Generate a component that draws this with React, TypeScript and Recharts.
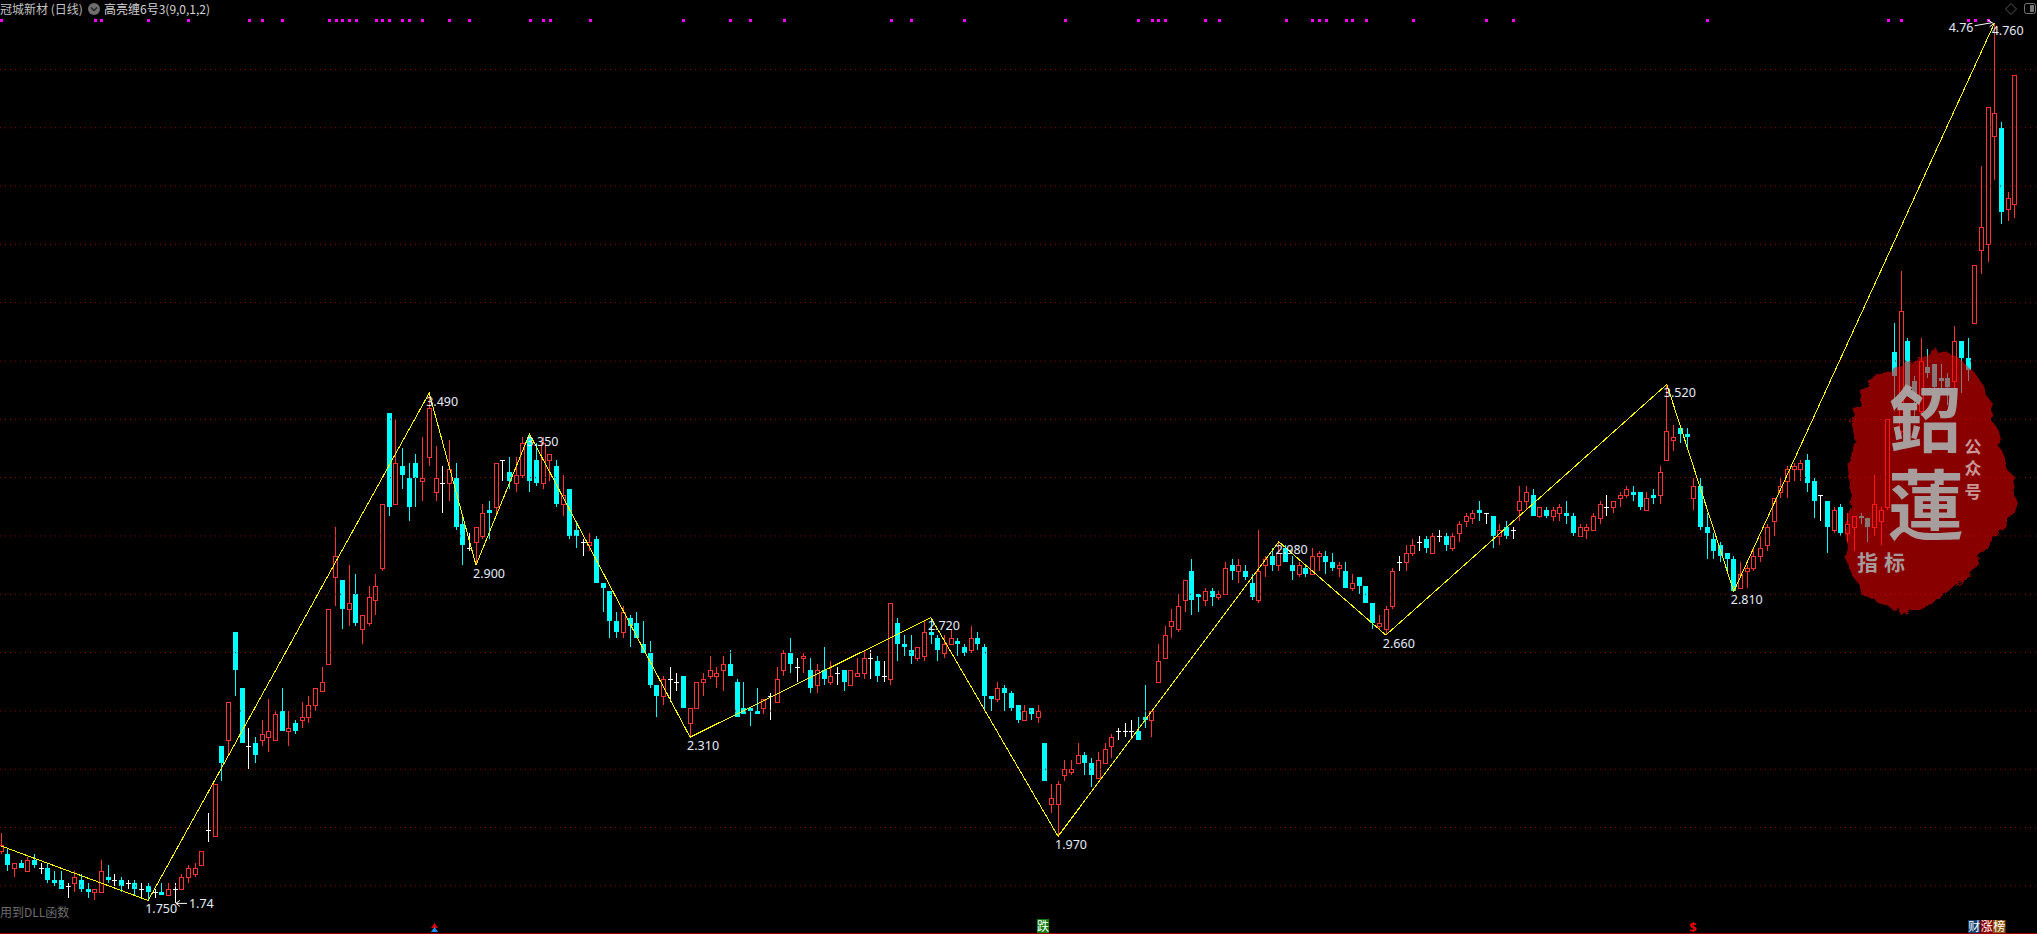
import React from 'react';
import { ComposedChart, Bar, Line, XAxis, YAxis, ReferenceLine, ReferenceDot, LabelList } from 'recharts';

const W = 2037;
const H = 934;

const opens = [
1.92,1.91,1.86,1.88,1.85,1.89,1.86,1.86,1.82,1.82,
1.80,1.81,1.82,1.79,1.78,1.78,1.83,1.82,1.82,1.81,
1.81,1.79,1.80,1.78,1.78,1.77,1.79,1.79,1.83,1.84,
1.87,1.99,1.97,2.28,2.30,2.67,2.48,2.28,2.29,2.30,
2.31,2.30,2.40,2.33,2.36,2.37,2.38,2.42,2.47,2.56,
2.86,2.85,2.75,2.80,2.68,2.70,2.78,2.89,3.42,3.11,
3.24,3.20,3.25,3.19,3.27,3.15,3.18,3.18,3.20,3.04,
2.96,2.98,3.00,3.09,3.10,3.26,3.22,3.18,3.21,3.34,
3.26,3.18,3.26,3.24,3.11,3.16,3.02,2.98,2.97,2.99,
2.84,2.81,2.71,2.67,2.72,2.70,2.63,2.60,2.49,2.45,
2.51,2.50,2.52,2.36,2.41,2.50,2.52,2.52,2.54,2.56,
2.50,2.41,2.41,2.40,2.41,2.45,2.43,2.54,2.60,2.55,
2.58,2.54,2.49,2.54,2.50,2.53,2.54,2.49,2.52,2.53,
2.58,2.57,2.52,2.51,2.70,2.63,2.61,2.58,2.59,2.67,
2.65,2.60,2.63,2.64,2.62,2.61,2.65,2.62,2.45,2.44,
2.48,2.46,2.42,2.37,2.41,2.38,2.29,2.08,2.08,2.18,
2.19,2.22,2.25,2.22,2.17,2.22,2.28,2.33,2.33,2.33,
2.33,2.38,2.37,2.50,2.58,2.69,2.68,2.78,2.88,2.80,
2.78,2.81,2.79,2.80,2.90,2.88,2.88,2.84,2.78,2.90,
2.93,2.90,2.96,2.90,2.87,2.89,2.87,2.93,2.93,2.91,
2.89,2.88,2.82,2.86,2.83,2.77,2.69,2.68,2.76,2.91,
2.91,2.94,2.98,2.99,2.94,3.00,3.00,2.96,3.01,3.05,
3.06,3.09,3.08,3.07,3.00,3.03,3.02,3.09,3.12,3.14,
3.07,3.09,3.07,3.08,3.08,3.07,3.00,3.02,3.02,3.06,
3.10,3.10,3.13,3.14,3.15,3.15,3.09,3.14,3.14,3.26,
3.33,3.37,3.35,3.13,3.17,3.03,2.99,2.97,2.94,2.92,
2.82,2.88,2.89,2.93,2.97,3.05,3.15,3.19,3.23,3.23,
3.26,3.19,3.14,3.12,3.02,3.10,3.01,3.03,3.07,3.06,
3.03,3.05,3.10,3.63,3.36,3.67,3.53,3.43,3.58,3.59,
3.54,3.54,3.53,3.67,3.61,3.73,3.98,4.00,4.37,4.40,
4.12,4.14,
];
const highs = [
1.98,1.93,1.88,1.89,1.90,1.91,1.88,1.88,1.85,1.85,
1.81,1.85,1.84,1.81,1.79,1.89,1.87,1.84,1.83,1.82,
1.82,1.81,1.81,1.79,1.81,1.81,1.81,1.84,1.87,1.88,
1.92,2.05,2.15,2.28,2.43,2.67,2.48,2.34,2.31,2.37,
2.44,2.40,2.48,2.40,2.37,2.43,2.45,2.48,2.55,2.75,
3.03,2.85,2.90,2.87,2.73,2.83,2.87,3.11,3.42,3.40,
3.30,3.25,3.28,3.34,3.49,3.31,3.24,3.33,3.25,3.06,
3.01,3.03,3.11,3.12,3.25,3.26,3.27,3.27,3.34,3.35,
3.32,3.34,3.28,3.26,3.21,3.16,3.05,2.99,3.01,3.00,
2.84,2.81,2.74,2.76,2.73,2.74,2.71,2.64,2.49,2.52,
2.55,2.53,2.52,2.41,2.50,2.53,2.59,2.55,2.59,2.61,
2.51,2.50,2.41,2.48,2.44,2.46,2.55,2.61,2.65,2.58,
2.60,2.58,2.56,2.62,2.57,2.55,2.54,2.54,2.58,2.61,
2.61,2.59,2.57,2.77,2.72,2.66,2.66,2.62,2.71,2.72,
2.66,2.66,2.68,2.65,2.63,2.69,2.67,2.63,2.45,2.50,
2.49,2.47,2.42,2.42,2.41,2.42,2.29,2.15,2.16,2.23,
2.23,2.29,2.26,2.24,2.26,2.29,2.32,2.34,2.36,2.37,
2.38,2.49,2.40,2.63,2.69,2.75,2.80,2.85,2.92,2.80,
2.82,2.82,2.81,2.91,2.92,2.92,2.90,2.87,3.02,2.93,
2.96,2.98,2.97,2.93,2.91,2.90,2.96,2.95,2.95,2.94,
2.91,2.91,2.87,2.86,2.83,2.77,2.73,2.76,2.89,2.93,
2.97,2.99,3.00,3.00,3.01,3.02,3.01,3.01,3.05,3.08,
3.09,3.12,3.08,3.07,3.04,3.05,3.03,3.17,3.17,3.16,
3.10,3.10,3.10,3.11,3.12,3.08,3.04,3.04,3.08,3.12,
3.14,3.12,3.15,3.17,3.17,3.15,3.15,3.16,3.24,3.52,
3.38,3.37,3.37,3.20,3.20,3.08,3.01,2.98,2.94,2.93,
2.91,2.90,2.96,3.00,3.04,3.13,3.20,3.24,3.25,3.26,
3.28,3.20,3.14,3.12,3.10,3.11,3.08,3.07,3.08,3.06,
3.21,3.10,3.40,3.73,3.91,3.68,3.55,3.68,3.64,3.59,
3.59,3.56,3.72,3.67,3.68,3.93,4.27,4.47,4.76,4.42,
4.18,4.58,
];
const lows = [
1.91,1.85,1.83,1.86,1.85,1.86,1.84,1.81,1.80,1.79,
1.76,1.78,1.78,1.76,1.75,1.78,1.81,1.80,1.78,1.79,
1.77,1.76,1.75,1.76,1.77,1.77,1.74,1.79,1.81,1.83,
1.87,1.95,1.97,2.16,2.25,2.45,2.29,2.20,2.22,2.28,
2.26,2.30,2.33,2.28,2.32,2.34,2.36,2.40,2.47,2.56,
2.76,2.68,2.69,2.69,2.63,2.69,2.73,2.88,3.07,3.11,
3.16,3.05,3.10,3.12,3.24,3.12,3.08,3.12,3.02,2.90,
2.95,2.90,2.99,2.99,3.08,3.19,3.16,3.15,3.20,3.15,
3.17,3.16,3.19,3.10,3.07,2.99,2.96,2.93,2.95,2.84,
2.74,2.65,2.65,2.65,2.62,2.65,2.60,2.48,2.38,2.42,
2.43,2.47,2.41,2.31,2.41,2.45,2.51,2.48,2.47,2.52,
2.38,2.39,2.35,2.39,2.39,2.37,2.43,2.52,2.53,2.50,
2.53,2.46,2.46,2.49,2.49,2.49,2.47,2.49,2.52,2.51,
2.51,2.50,2.50,2.49,2.57,2.59,2.56,2.57,2.57,2.63,
2.57,2.58,2.63,2.59,2.59,2.60,2.61,2.40,2.40,2.43,
2.40,2.40,2.36,2.37,2.37,2.36,2.16,2.05,1.97,2.16,
2.18,2.22,2.18,2.14,2.17,2.22,2.24,2.30,2.31,2.31,
2.30,2.34,2.31,2.50,2.58,2.65,2.67,2.74,2.73,2.74,
2.76,2.76,2.78,2.80,2.85,2.84,2.85,2.78,2.77,2.86,
2.88,2.88,2.91,2.85,2.86,2.86,2.87,2.88,2.87,2.88,
2.86,2.82,2.81,2.80,2.77,2.68,2.68,2.66,2.75,2.88,
2.88,2.93,2.95,2.94,2.94,2.98,2.95,2.95,2.98,3.03,
3.04,3.05,3.04,2.96,2.97,2.99,2.99,3.05,3.09,3.07,
3.06,3.06,3.05,3.05,3.04,3.00,3.00,2.99,3.02,3.04,
3.07,3.08,3.10,3.13,3.12,3.09,3.09,3.11,3.11,3.26,
3.29,3.32,3.30,3.09,3.02,2.92,2.92,2.91,2.87,2.81,
2.82,2.82,2.88,2.91,2.95,3.00,3.13,3.13,3.19,3.19,
3.15,3.06,3.05,2.94,3.01,3.00,2.98,2.95,3.04,2.98,
3.00,2.97,3.09,3.43,3.35,3.48,3.40,3.41,3.54,3.43,
3.50,3.45,3.50,3.49,3.53,3.73,3.90,3.94,4.22,4.07,
4.08,4.09,
];
const closes = [
1.94,1.87,1.88,1.86,1.89,1.87,1.86,1.82,1.81,1.79,
1.80,1.83,1.79,1.78,1.79,1.85,1.82,1.82,1.80,1.81,
1.79,1.79,1.78,1.78,1.77,1.79,1.79,1.83,1.86,1.86,
1.92,1.99,2.15,2.22,2.43,2.54,2.29,2.28,2.25,2.32,
2.33,2.39,2.33,2.34,2.33,2.38,2.42,2.48,2.50,2.75,
2.93,2.75,2.77,2.70,2.73,2.79,2.83,3.11,3.10,3.25,
3.21,3.10,3.20,3.20,3.44,3.20,3.18,3.23,3.03,2.97,
2.96,3.03,3.08,3.08,3.25,3.26,3.19,3.21,3.32,3.19,
3.18,3.32,3.28,3.11,3.14,3.00,3.00,2.98,2.98,2.84,
2.82,2.71,2.67,2.74,2.69,2.65,2.60,2.49,2.45,2.51,
2.51,2.50,2.41,2.41,2.50,2.51,2.54,2.53,2.56,2.52,
2.38,2.39,2.40,2.39,2.44,2.45,2.51,2.60,2.56,2.55,
2.59,2.48,2.54,2.51,2.52,2.53,2.50,2.54,2.53,2.58,
2.58,2.52,2.52,2.77,2.63,2.62,2.59,2.62,2.67,2.66,
2.61,2.63,2.65,2.63,2.60,2.65,2.63,2.45,2.44,2.48,
2.46,2.41,2.37,2.40,2.39,2.40,2.16,2.10,2.15,2.20,
2.20,2.25,2.22,2.18,2.23,2.27,2.31,2.33,2.33,2.33,
2.30,2.37,2.40,2.57,2.66,2.71,2.76,2.85,2.78,2.79,
2.81,2.79,2.80,2.89,2.88,2.90,2.86,2.79,2.88,2.92,
2.90,2.94,2.91,2.88,2.90,2.87,2.93,2.94,2.91,2.89,
2.90,2.82,2.84,2.83,2.77,2.70,2.70,2.75,2.88,2.91,
2.94,2.97,2.98,2.96,3.00,3.00,2.97,3.00,3.04,3.07,
3.08,3.08,3.08,3.00,3.02,3.00,3.02,3.12,3.15,3.07,
3.10,3.07,3.09,3.10,3.07,3.01,3.03,3.03,3.07,3.11,
3.10,3.12,3.14,3.16,3.14,3.10,3.13,3.13,3.22,3.36,
3.34,3.35,3.34,3.17,3.03,3.01,2.95,2.93,2.92,2.81,
2.87,2.89,2.93,2.96,3.03,3.13,3.17,3.23,3.24,3.25,
3.18,3.12,3.14,3.03,3.09,3.01,3.04,3.07,3.06,3.03,
3.11,3.09,3.40,3.55,3.77,3.49,3.47,3.60,3.56,3.51,
3.53,3.51,3.67,3.61,3.57,3.93,4.06,4.47,4.45,4.11,
4.16,4.58,
];

const zigzagIndex = [0, 22, 64, 71, 79, 103, 139, 158, 191, 207, 249, 259, 298];
const zigzagPrice = [1.937, 1.75, 3.49, 2.9, 3.35, 2.31, 2.72, 1.97, 2.98, 2.66, 3.52, 2.81, 4.76];
const signalIndex = [0, 14, 15, 22, 28, 37, 39, 42, 49, 50, 51, 52, 53, 56, 57, 58, 60, 61, 63, 67, 70, 79, 81, 82, 88, 102, 109, 112, 117, 133, 136, 144, 159, 170, 172, 173, 174, 180, 182, 192, 196, 197, 198, 201, 202, 204, 211, 222, 226, 255, 282, 284, 294, 295, 297];
const signalLevel = 4.768;
const gridPrices = [1.8, 2, 2.2, 2.4, 2.6, 2.8, 3, 3.2, 3.4, 3.6, 3.8, 4, 4.2, 4.4, 4.6];

const rows = opens.map((o, i) => {
  const zi = zigzagIndex.indexOf(i);
  return {
    i,
    o,
    h: highs[i],
    l: lows[i],
    c: closes[i],
    range: [lows[i], highs[i]],
    zz: zi >= 0 ? zigzagPrice[zi] : null,
    pivot: zi > 0 ? zigzagPrice[zi].toFixed(3) : null,
    signal: signalIndex.includes(i) ? signalLevel : null,
  };
});

const RED = '#FF3232';
const CYAN = '#00FFFF';
const WHITE = '#FFFFFF';
const LABEL = '#E4ECFA';
const FONT = '"Noto Sans", "Noto Sans CJK SC", sans-serif';
const CJK = '"Noto Sans CJK SC", "Noto Sans", sans-serif';

function Candle(props: any) {
  const { x, y, width, height, payload } = props;
  const { o, h, l, c } = payload;
  const cx = Math.round(x + width / 2 - 0.5);
  const py = (p: number) => y + ((h - p) / (h - l)) * height;
  const top = Math.round(py(Math.max(o, c)));
  const bot = Math.round(py(Math.min(o, c)));
  const wx = cx + 0.5;
  const yh = Math.round(py(h));
  const yl = Math.round(py(l));
  if (o === c) {
    return (
      <g>
        <line x1={wx} x2={wx} y1={yh} y2={yl} stroke={WHITE} strokeWidth={1} />
        <rect x={cx - 2} y={top} width={5} height={1} fill={WHITE} />
      </g>
    );
  }
  if (c > o) {
    return (
      <g>
        {yh < top && <line x1={wx} x2={wx} y1={yh} y2={top} stroke={RED} strokeWidth={1} />}
        {yl > bot && <line x1={wx} x2={wx} y1={bot} y2={yl} stroke={RED} strokeWidth={1} />}
        <rect x={cx - 1.5} y={top + 0.5} width={4} height={Math.max(bot - top, 1)} fill="#000" stroke={RED} strokeWidth={1} />
      </g>
    );
  }
  return (
    <g>
      <line x1={wx} x2={wx} y1={yh} y2={yl} stroke={CYAN} strokeWidth={1} />
      <rect x={cx - 2} y={top} width={5} height={Math.max(bot - top, 2)} fill={CYAN} />
    </g>
  );
}

function SignalDot(props: any) {
  const { cx, cy, value, index } = props;
  if (value == null || cy == null) return <g key={index} />;
  return <rect key={index} x={Math.round(cx) - 1} y={Math.round(cy) - 1} width={3} height={3} fill="#FF00FF" />;
}

function PivotLabel(props: any) {
  const { x, y, value } = props;
  if (value == null) return null;
  return (
    <text x={x - 3} y={y + 12.5} fontSize={12.5} fontFamily={FONT} fill={LABEL}>
      {value}
    </text>
  );
}

function LowMark(props: any) {
  const { cx, cy } = props;
  return (
    <g>
      <line x1={cx + 1} x2={cx + 12} y1={cy} y2={cy} stroke="#fff" />
      <path d={`M${cx + 5} ${cy - 3}L${cx + 1} ${cy}L${cx + 5} ${cy + 3}`} fill="none" stroke="#fff" />
      <text x={cx + 14} y={cy + 5} fontSize={12.5} fontFamily={FONT} fill={LABEL}>1.74</text>
    </g>
  );
}

function HighMark(props: any) {
  const { cx, cy } = props;
  return (
    <g>
      <path d={`M${cx - 20} ${cy + 3}L${cx - 3} ${cy}`} fill="none" stroke="#fff" />
      <path d={`M${cx - 7} ${cy - 3}L${cx - 1} ${cy + 1}L${cx - 5} ${cy + 4}`} fill="none" stroke="#fff" />
      <text x={cx - 46} y={cy + 9} fontSize={12.5} fontFamily={FONT} fill={LABEL}>4.76</text>
    </g>
  );
}

const blobPoints = '318,262 330,285 345,270 362,282 382,290 400,306 415,322 432,335 448,358 462,378 470,405 488,432 482,452 492,470 484,480 505,508 512,535 508,558 522,590 530,628 555,652 548,690 566,735 548,755 538,772 524,800 512,812 500,828 478,850 468,868 448,885 440,925 415,945 400,962 375,975 345,1002 322,1015 305,1032 270,1050 245,1050 215,1068 205,1045 190,1050 170,1035 140,1025 128,1012 98,1008 86,972 70,950 58,925 44,890 52,855 44,815 58,795 42,790 65,735 62,690 52,610 72,575 76,540 62,490 72,470 70,450 92,428 96,408 86,395 108,375 130,350 158,340 190,330 228,312 262,296 298,285';

function Watermark() {
  return (
    <svg width={W} height={H} style={{ position: 'absolute', left: 0, top: 0, pointerEvents: 'none' }}>
      <defs>
        <filter id="rough" x="-5%" y="-5%" width="110%" height="110%">
          <feTurbulence type="fractalNoise" baseFrequency="0.12" numOctaves={2} seed={4} />
          <feDisplacementMap in="SourceGraphic" scale={7} />
        </filter>
      </defs>
      <g filter="url(#rough)">
        <g transform="translate(1830 260) scale(0.3333)">
          <polygon points={blobPoints} fill="#FF0000" fillOpacity={0.533} />
        </g>
      </g>
      <g fill="#A9A5A5" fillOpacity={0.95} fontFamily={CJK} fontWeight={700} textAnchor="middle">
        <text x={1925} y={446} fontSize={72}>鉊</text>
        <text x={1926} y={534} fontSize={76}>蓮</text>
        <text x={1884} y={570} fontSize={21} letterSpacing={6}>指标</text>
      </g>
      <g fill="#C89898" fontFamily={CJK} fontWeight={700} fontSize={17} textAnchor="middle">
        <text x={1973} y={453}>公</text>
        <text x={1973} y={475}>众</text>
        <text x={1973} y={498}>号</text>
      </g>
    </svg>
  );
}

function Chrome() {
  return (
    <svg width={W} height={H} style={{ position: 'absolute', left: 0, top: 0, pointerEvents: 'none' }}>
      <text x={0} y={13.5} fontSize={12} fontFamily={CJK} fill="#C4C4C4">冠城新材 (日线)</text>
      <circle cx={94} cy={9} r={6} fill="#6E6E6E" />
      <path d="M91 7.5L94 10.5L97 7.5" fill="none" stroke="#222" strokeWidth={1.4} />
      <text x={104} y={13.5} fontSize={12} fontFamily={CJK} fill="#D4D4D4">高亮缠6号3(9,0,1,2)</text>
      <text x={0} y={917} fontSize={12} fontFamily={CJK} fill="#6E6E6E">用到DLL函数</text>
      <path d="M2011 3.5L2016.5 9L2011 14.5L2005.5 9Z" fill="none" stroke="#555" />
      <rect x={2024.5} y={3.5} width={11} height={10} rx={2} fill="none" stroke="#777" />
      <rect x={2030} y={5} width={4} height={7} fill="#777" />
      <path d="M434.5 923L438 928H431Z" fill="#E00000" />
      <path d="M434.5 927L438 932H431Z" fill="#1E90FF" />
      <rect x={1037} y={919} width={12} height={14} fill="#0C7C0C" />
      <text x={1043} y={931} fontSize={12} fontFamily={CJK} textAnchor="middle" fill="#FFFFFF">跌</text>
      <text x={1693} y={932} fontSize={13} fontWeight={700} fontFamily={FONT} textAnchor="middle" fill="#F00000">$</text>
      <rect x={1968} y={920} width={12.5} height={13} fill="#123A6A" />
      <rect x={1980.5} y={920} width={12.5} height={13} fill="#8B0000" />
      <rect x={1993} y={920} width={12.5} height={13} fill="#8A5510" />
      <g fontSize={12} fontFamily={CJK} fill="#fff" textAnchor="middle">
        <text x={1974.2} y={931}>财</text>
        <text x={1986.7} y={931}>涨</text>
        <text x={1999.2} y={931}>榜</text>
      </g>
      <rect x={0} y={933} width={W} height={1} fill="#A00000" />
    </svg>
  );
}

export default function App() {
  return (
    <div style={{ position: 'fixed', left: 0, top: 0, width: W, height: H, background: '#000', overflow: 'hidden' }}>
      <ComposedChart width={W} height={H} data={rows} margin={{ top: 0, right: 0, bottom: 0, left: 0 }}>
        <XAxis dataKey="i" type="number" domain={[-0.15, 304.33]} allowDataOverflow hide />
        <YAxis type="number" domain={[1.635, 4.838]} allowDataOverflow hide />
        {gridPrices.map((p) => (
          <ReferenceLine key={p} y={p} stroke="#8A0000" strokeDasharray="1 4" strokeWidth={1} />
        ))}
        <Bar dataKey="range" barSize={5} shape={<Candle />} isAnimationActive={false} />
        <Line dataKey="zz" connectNulls stroke="#FFFF00" strokeWidth={1} dot={false} activeDot={false} isAnimationActive={false} style={{ shapeRendering: 'crispEdges' }}>
          <LabelList dataKey="pivot" content={<PivotLabel />} />
        </Line>
        <Line dataKey="signal" stroke="none" dot={<SignalDot />} activeDot={false} isAnimationActive={false} />
        <ReferenceDot x={26} y={1.74} r={0} shape={<LowMark />} />
        <ReferenceDot x={298} y={4.76} r={0} shape={<HighMark />} />
      </ComposedChart>
      <Watermark />
      <Chrome />
    </div>
  );
}
